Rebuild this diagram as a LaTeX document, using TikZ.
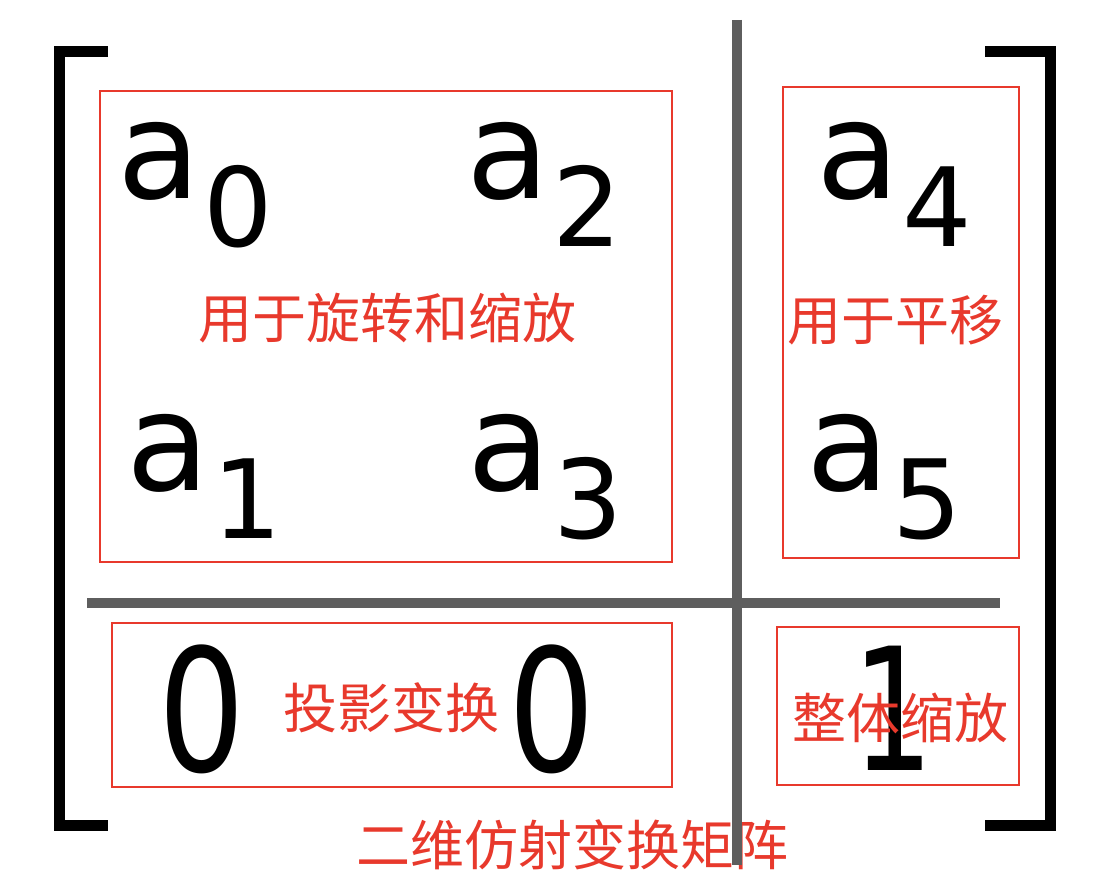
\documentclass[tikz,border=0pt]{standalone}
\usepackage{fontspec}
\setmainfont{DejaVu Sans}
\newfontfamily\cjkfont{Noto Sans CJK SC}
\usetikzlibrary{positioning, fit}
\definecolor{rojoNota}{HTML}{E8392C}
\definecolor{grisDivisor}{HTML}{5E5E5E}
\newcommand{\coef}[1]{{\fontsize{102}{102}\selectfont a}\hspace{2pt}{\raisebox{-36pt}{\fontsize{82}{82}\selectfont #1}}}

\begin{document}
\begin{tikzpicture}[x=0.75pt, y=-0.75pt,
  caja/.style={draw=rojoNota, line width=1.5pt, inner sep=0pt},
  nota/.style={text=rojoNota, font={\cjkfont\fontsize{40.5}{40.5}\selectfont}, inner sep=0pt},
  coefnodo/.style={anchor=base west, inner sep=0pt},
  digito/.style={inner sep=0pt, font={\fontsize{128}{128}\selectfont}},
  corchete/.style={line width=8.25pt},
  divisor/.style={grisDivisor, line width=7.5pt}
]
  \useasboundingbox (0,0) rectangle (1094,892);

  % corchetes de la matriz
  \draw[corchete] (108,52) -| (59,825) -- (108,825);
  \draw[corchete] (985,52) -| (1050,825) -- (985,825);

  % titulo
  \node[nota] (titulo) at (572,845) {二维仿射变换矩阵};

  % divisores
  \draw[divisor] (737,20) -- (737,865);
  \draw[divisor] (87,603) -- (1000,603);

  % coeficientes
  \foreach \i/\x/\y in {0/123/198, 2/472/198, 4/822/198, 1/132/490, 3/473/490, 5/812/490}{
    \node[coefnodo] (a\i) at (\x-6,\y) {\coef{\i}};
  }
  \node[digito] (ceroA) at (202,709) {\scalebox{0.8}[1]{0}};
  \node[digito] (ceroB) at (552,709) {\scalebox{0.8}[1]{0}};
  \node[digito] (uno) at (893,708) {\scalebox{0.75}[1]{1}};

  % cajas
  \node[caja, fit={(100,91) (672,562)}] (rotacion) {};
  \node[caja, fit={(783,87) (1019,558)}] (traslacion) {};
  \node[caja, fit={(112,623) (672,787)}] (proyeccion) {};
  \node[caja, fit={(777,627) (1019,785)}] (escala) {};

  \node[nota] (notaRot) at (387,318) {用于旋转和缩放};
  \node[nota] (notaTras) at (895,320) {用于平移};
  \node[nota] (notaProy) at (391,708) {投影变换};
  \node[nota] (notaEsc) at (900,718) {整体缩放};
\end{tikzpicture}
\end{document}
